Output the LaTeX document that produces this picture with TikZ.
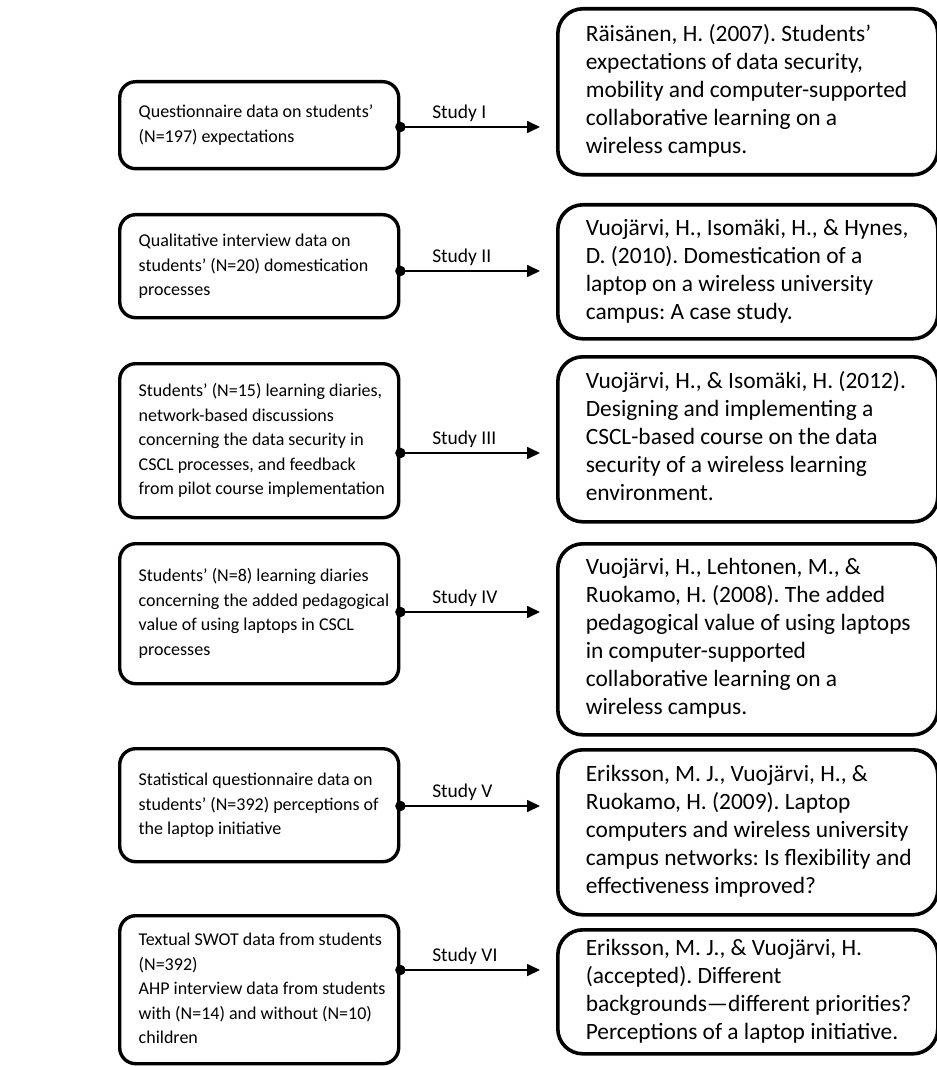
\documentclass[tikz,border=0pt]{standalone}
\usepackage{fontspec}
\setmainfont{Carlito}
\usetikzlibrary{arrows.meta}
\frenchspacing
% a left-aligned block of explicitly broken lines inside a box of fixed width
\newcommand\textlines[2]{\makebox[#1][l]{\begin{tabular}{@{}l@{}}#2\end{tabular}}}
\begin{document}
\begin{tikzpicture}[x=1pt,y=-1pt,
  databox/.style={draw, line width=3.4pt, rounded corners=16pt, anchor=north west,
    inner xsep=19pt, inner ysep=0pt, font=\fontsize{18}{24.5}\selectfont},
  refbox/.style={draw, line width=3.6pt, rounded corners=25pt, anchor=north west,
    inner xsep=28pt, inner ysep=0pt, font=\fontsize{23.4}{28}\selectfont},
  conn/.style={line width=1.7pt, -{Triangle[length=13pt,width=12pt]}},
  studylabel/.style={anchor=south west, pos=0, xshift=26pt, inner sep=5pt,
    font=\fontsize{19.5}{22}\selectfont},
  joint/.style={circle, fill=black, inner sep=0pt, minimum size=10.5pt}]
\useasboundingbox (0,0) rectangle (936,1067);

% data sources (left column)
\node[databox, minimum height=87pt] (l1) at (118,80)
  {\textlines{241pt}{Questionnaire data on students'\\(N=197) expectations}};
\node[databox, minimum height=103pt] (l2) at (118,213)
  {\textlines{241pt}{Qualitative interview data on\\students' (N=20) domestication\\processes}};
\node[databox, minimum height=154pt] (l3) at (118,362)
  {\textlines{241pt}{Students' (N=15) learning diaries,\\network-based discussions\\concerning the data security in\\CSCL processes, and feedback\\from pilot course implementation}};
\node[databox, minimum height=140pt] (l4) at (118,542)
  {\textlines{241pt}{Students' (N=8) learning diaries\\concerning the added pedagogical\\value of using laptops in CSCL\\processes}};
\node[databox, minimum height=113pt] (l5) at (118,747)
  {\textlines{241pt}{Statistical questionnaire data on\\students' (N=392) perceptions of\\the laptop initiative}};
\node[databox, minimum height=148pt] (l6) at (118,914)
  {\textlines{241pt}{Textual SWOT data from students\\(N=392)\\AHP interview data from students\\with (N=14) and without (N=10)\\children}};

% publications (right column)
\node[refbox, minimum height=166pt] (r1) at (556,7)
  {\textlines{324pt}{Räisänen, H. (2007). Students'\\expectations of data security,\\mobility and computer-supported\\collaborative learning on a\\wireless campus.}};
\node[refbox, minimum height=134pt] (r2) at (556,203)
  {\textlines{324pt}{Vuojärvi, H., Isomäki, H., \& Hynes,\\D. (2010). Domestication of a\\laptop on a wireless university\\campus: A case study.}};
\node[refbox, minimum height=165pt] (r3) at (556,355)
  {\textlines{324pt}{Vuojärvi, H., \& Isomäki, H. (2012).\\Designing and implementing a\\CSCL-based course on the data\\security of a wireless learning\\environment.}};
\node[refbox, minimum height=191pt] (r4) at (556,542)
  {\textlines{324pt}{Vuojärvi, H., Lehtonen, M., \&\\Ruokamo, H. (2008). The added\\pedagogical value of using laptops\\in computer-supported\\collaborative learning on a\\wireless campus.}};
\node[refbox, minimum height=165pt] (r5) at (556,748)
  {\textlines{324pt}{Eriksson, M. J., Vuojärvi, H., \&\\Ruokamo, H. (2009). Laptop\\computers and wireless university\\campus networks: Is flexibility and\\effectiveness improved?}};
\node[refbox, minimum height=124pt] (r6) at (556,928)
  {\textlines{324pt}{Eriksson, M. J., \& Vuojärvi, H.\\(accepted). Different\\backgrounds---different priorities?\\Perceptions of a laptop initiative.}};

% arrow tips in front of the publications
\coordinate (t1) at (540,127);
\coordinate (t2) at (540,271);
\coordinate (t3) at (540,453);
\coordinate (t4) at (540,612);
\coordinate (t5) at (540,806);
\coordinate (t6) at (540,970);

% study connectors, each starting from a dot on its data box
\foreach \i/\s in {1/I,2/II,3/III,4/IV,5/V,6/VI}{
  \draw[conn] (t\i -| l\i.east) -- (t\i) node[studylabel] {Study \s};
  \node[joint] (j\i) at (t\i -| l\i.east) {};
}
\end{tikzpicture}
\end{document}
